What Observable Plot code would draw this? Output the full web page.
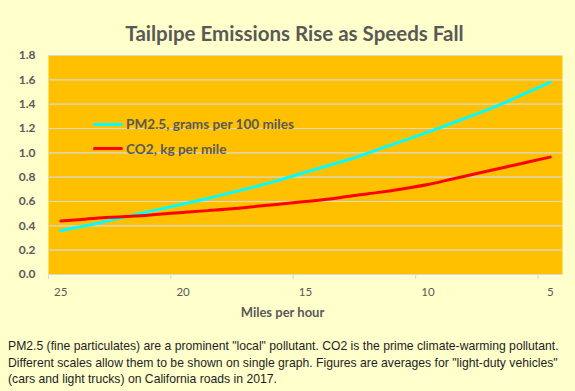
<!DOCTYPE html>
<html><head><meta charset="utf-8">
<script src="https://cdn.jsdelivr.net/npm/d3@7"></script>
<script src="https://cdn.jsdelivr.net/npm/@observablehq/plot@0.6"></script>
<style>
html,body{margin:0;padding:0;background:#ffffcc;}
#wrap{position:relative;width:575px;height:391px;background:#ffffcc;overflow:hidden;}
#title{height:44px;box-sizing:border-box;padding-top:22px;padding-left:14px;line-height:22px;text-align:center;font-family:Lato;font-weight:bold;font-size:20.5px;color:#595959;}
#chart svg{display:block;}
.sw{position:absolute;width:30px;height:3px;border-radius:1.5px;}
.lt{position:absolute;font-family:Lato;font-weight:bold;font-size:13.6px;line-height:16px;color:#595959;white-space:nowrap;}
#caption{position:absolute;left:8px;top:338px;font-family:"Liberation Sans",Arial,sans-serif;font-size:12.2px;line-height:16.6px;color:#1e1e1e;white-space:nowrap;}
</style>
</head><body>
<div id="wrap">
  <div id="title">Tailpipe Emissions Rise as Speeds Fall</div>
  <div id="chart"></div>
  <div class="sw" style="left:93px;top:122.5px;background:#00ffff"></div>
  <div class="lt" style="left:126px;top:116px">PM2.5, grams per 100 miles</div>
  <div class="sw" style="left:93px;top:147px;background:#ff0000"></div>
  <div class="lt" style="left:126px;top:140.5px">CO2, kg per mile</div>
  <div id="caption">PM2.5 (fine particulates) are a prominent "local" pollutant. CO2 is the prime climate-warming pollutant.<br>Different scales allow them to be shown on single graph. Figures are averages for "light-duty vehicles"<br>(cars and light trucks) on California roads in 2017.</div>
</div>
<script>
const mph  = [25,24,23,22,21,20,19,18,17,16,15,14,13,12,11,10,9,8,7,6,5];
const pm25 = [0.36,0.40,0.445,0.49,0.535,0.58,0.625,0.675,0.725,0.78,0.84,0.90,0.96,1.03,1.10,1.17,1.245,1.32,1.40,1.49,1.58];
const co2  = [0.44,0.455,0.47,0.48,0.495,0.51,0.525,0.54,0.56,0.58,0.60,0.62,0.65,0.675,0.705,0.74,0.785,0.83,0.875,0.92,0.965];
const seriesNames = ["PM2.5, grams per 100 miles","CO2, kg per mile"];
const seriesColors = ["#00ffff","#ff0000"];
const xTicks = [25,20,15,10,5];
const yTicks = [0,0.2,0.4,0.6,0.8,1.0,1.2,1.4,1.6,1.8];
const xLabel = "Miles per hour";

const rows = [];
mph.forEach((m,i)=>{
  rows.push({mph:m, value:pm25[i], series:seriesNames[0]});
  rows.push({mph:m, value:co2[i], series:seriesNames[1]});
});
const boundaries = xTicks.map(d=>d+0.5);

const chart = Plot.plot({
  width:575, height:286,
  marginLeft:48, marginRight:13, marginTop:11, marginBottom:56,
  style:{background:"transparent", fontFamily:"Lato", color:"#595959", overflow:"visible"},
  x:{domain:[25.5,4.5]},
  y:{domain:[0,1.8]},
  color:{domain:seriesNames, range:seriesColors},
  marks:[
    Plot.frame({fill:"#ffc000", stroke:"none"}),
    Plot.gridY(yTicks, {stroke:"#d9d9d9", strokeOpacity:1, strokeWidth:1.2}),
    Plot.ruleY([0], {stroke:"#d9d9d9", strokeWidth:1.2}),
    Plot.axisX(boundaries, {tickSize:5, tickFormat:()=>"", color:"#d9d9d9", strokeWidth:1.2, label:null}),
    Plot.axisX(xTicks, {tickSize:0, tickPadding:13, fontSize:11.5, color:"#595959", label:null}),
    Plot.axisY(yTicks, {tickSize:0, tickPadding:13, fontSize:12, fontWeight:"bold", color:"#595959", tickFormat:d3.format(".1f"), label:null}),
    Plot.line(rows, {x:"mph", y:"value", z:"series", stroke:"series", strokeWidth:3, curve:"monotone-x", strokeLinecap:"round"}),
    Plot.text([xLabel], {frameAnchor:"bottom", dx:-23, dy:42, fontSize:13, fontWeight:"bold", fill:"#595959", text:d=>d})
  ]
});
document.getElementById("chart").appendChild(chart);
</script>
</body></html>
